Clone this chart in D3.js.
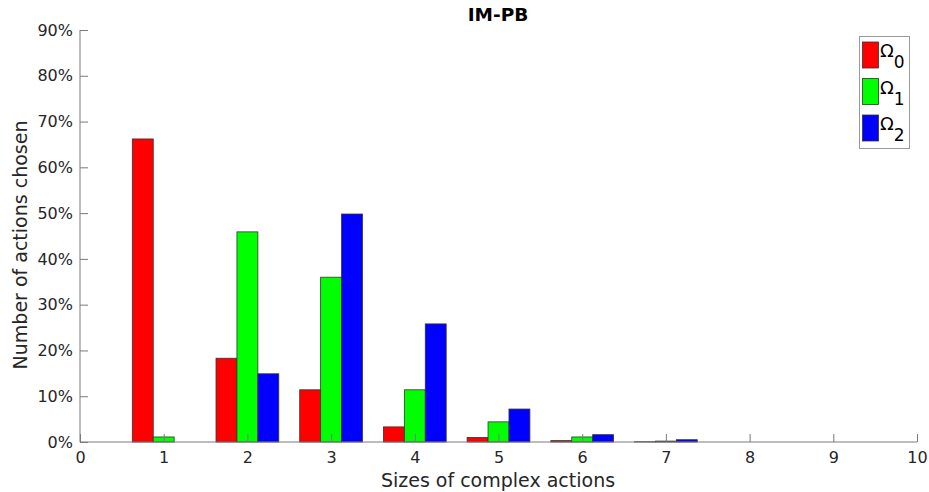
<!DOCTYPE html>
<html><head><meta charset="utf-8">
<script src="https://cdn.jsdelivr.net/npm/d3@7"></script>
<style>body{margin:0;background:#fff}svg{display:block}text{font-family:"DejaVu Sans",sans-serif}</style>
</head><body>
<svg id="c" width="929" height="492"></svg>
<script>
const sizes = [1,2,3,4,5,6,7,8,9,10];
const seriesNames = ["0","1","2"];
const omega0 = [66.2,18.3,11.4,3.3,1.0,0.3,0.05,0,0,0];
const omega1 = [1.1,45.9,36.0,11.4,4.4,1.1,0.2,0,0,0];
const omega2 = [0,14.9,49.8,25.8,7.2,1.6,0.5,0,0,0];
const colors = ["#ff0000","#00ff00","#0000ff"];
const xTicks = [0,1,2,3,4,5,6,7,8,9,10];
const yTicks = [0,10,20,30,40,50,60,70,80,90];

const svg = d3.select("#c");
const x = d3.scaleLinear().domain([0,10]).range([80,917]);
const y = d3.scaleLinear().domain([0,90]).range([442,30]);
const series = [omega0,omega1,omega2];
const bw = 0.25;

series.forEach((vals,si)=>{
  svg.append("g").selectAll("rect").data(sizes.map((s,i)=>({s,v:vals[i]})).filter(d=>d.v>0))
    .join("rect")
    .attr("x",d=>x(d.s-0.375+si*bw))
    .attr("width",d=>x(d.s-0.375+(si+1)*bw)-x(d.s-0.375+si*bw))
    .attr("y",d=>y(d.v))
    .attr("height",d=>y(0)-y(d.v))
    .attr("fill",colors[si])
    .attr("stroke","#333").attr("stroke-width",0.8);
});

const axCol = "#7a7a7a", txtCol = "#262626";
const gx = svg.append("g").attr("transform","translate(0,442)")
  .call(d3.axisTop(x).tickValues(xTicks).tickSize(8).tickFormat(d3.format("d")));
gx.select(".domain").attr("stroke",axCol).attr("d","M80,0H917");
gx.selectAll(".tick line").attr("stroke",axCol);
gx.selectAll(".tick text").attr("y",10).attr("dy","0.71em").attr("font-size",16).attr("fill",txtCol);

const gy = svg.append("g").attr("transform","translate(80,0)")
  .call(d3.axisRight(y).tickValues(yTicks).tickSize(8).tickFormat(d=>d+"%"));
gy.select(".domain").attr("stroke",axCol).attr("d","M0,442V30");
gy.selectAll(".tick line").attr("stroke",axCol);
gy.selectAll(".tick text").attr("x",-7).attr("text-anchor","end").attr("font-size",16).attr("fill",txtCol);

svg.append("text").attr("x",498).attr("y",21).attr("text-anchor","middle")
  .attr("font-weight","bold").attr("font-size",18.5).attr("fill","#000").text("IM-PB");
svg.append("text").attr("x",498).attr("y",487).attr("text-anchor","middle")
  .attr("font-size",19).attr("fill",txtCol).text("Sizes of complex actions");
svg.append("text").attr("transform","translate(27,245) rotate(-90)").attr("text-anchor","middle")
  .attr("font-size",19).attr("fill",txtCol).text("Number of actions chosen");

const lg = svg.append("g");
lg.append("rect").attr("x",859.5).attr("y",36.5).attr("width",50).attr("height",112)
  .attr("fill","#fff").attr("stroke","#999").attr("stroke-width",1);
seriesNames.forEach((n,i)=>{
  const yy = 42 + i*36.5;
  lg.append("rect").attr("x",862.5).attr("y",yy).attr("width",16).attr("height",26)
    .attr("fill",colors[i]).attr("stroke","#333").attr("stroke-width",0.8);
  const t = lg.append("text").attr("x",880).attr("y",yy+15).attr("font-size",18).attr("fill","#000");
  t.append("tspan").text("Ω");
  t.append("tspan").attr("dy",11).attr("font-size",17).text(n);
});
</script>
</body></html>
